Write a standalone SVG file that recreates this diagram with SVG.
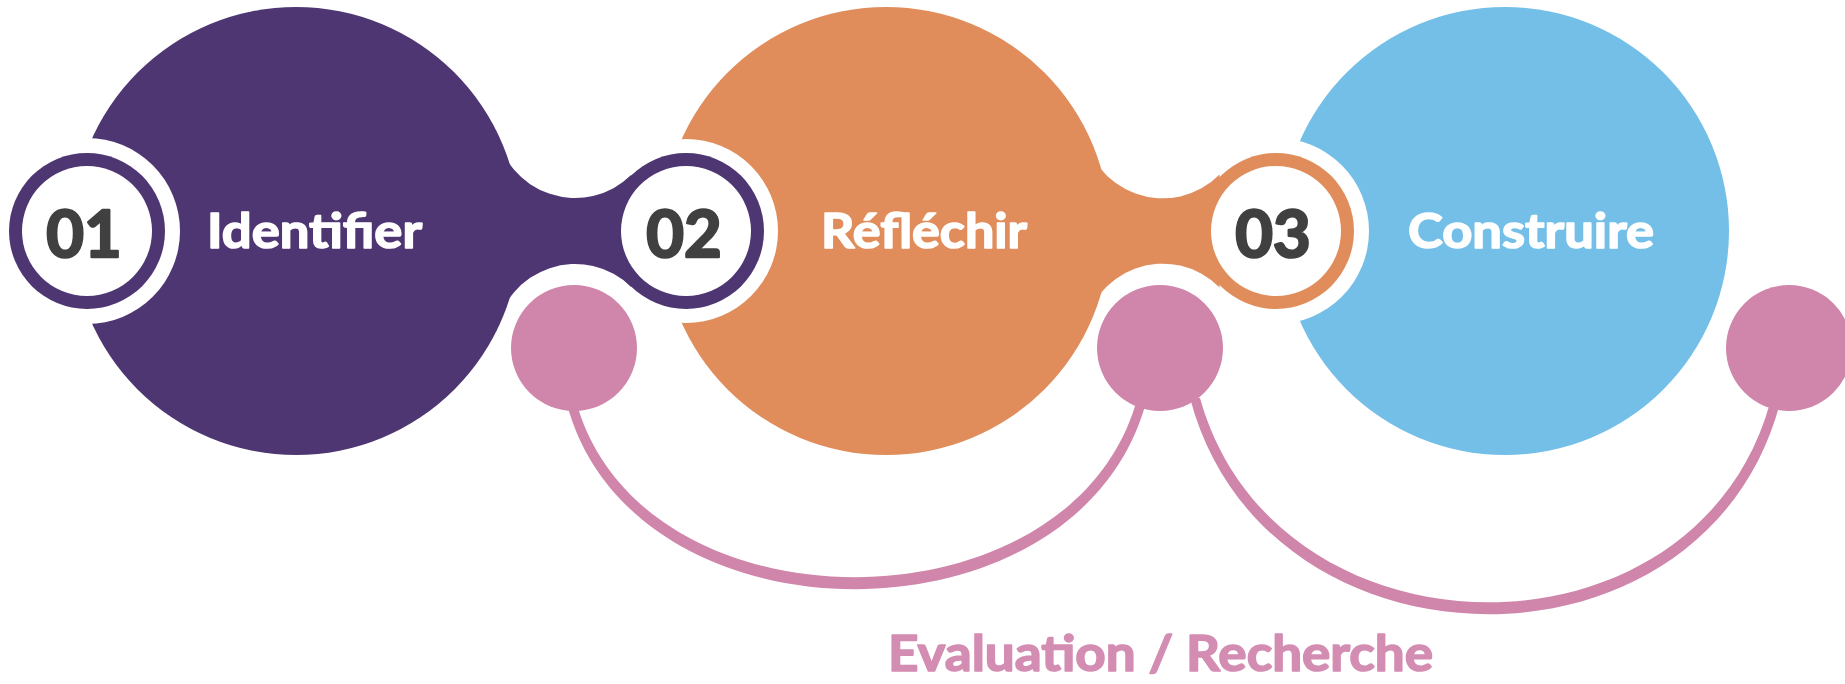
<svg xmlns="http://www.w3.org/2000/svg" width="1845" height="684" viewBox="0 0 1845 684">
<style>
.purple{fill:#4E3672}
.orange{fill:#E08D5B}
.blue{fill:#74BFE8}
.pink{fill:#D086AA}
.white{fill:#FFFFFF}
.num{font-family:Lato,"Noto Sans","Liberation Sans",sans-serif;font-weight:700;font-size:65px;fill:#404040;stroke:#404040;stroke-width:2.5;stroke-linejoin:round;text-anchor:middle}
.lbl{font-family:Lato,"Noto Sans","Liberation Sans",sans-serif;font-weight:700;font-size:48px;fill:#FFFFFF;stroke:#FFFFFF;stroke-width:1.6;stroke-linejoin:round}
.foot{font-family:Lato,"Noto Sans","Liberation Sans",sans-serif;font-weight:700;font-size:50px;fill:#D48DB2;stroke:#D48DB2;stroke-width:1.6;stroke-linejoin:round}
</style>
<rect width="1845" height="684" fill="#FFFFFF"/>
<g id="big-circles">
<circle class="purple" cx="296" cy="231" r="224"/>
<circle class="orange" cx="886" cy="231" r="224"/>
<circle class="blue" cx="1505" cy="231" r="224"/>
<circle class="white" cx="87" cy="231" r="93"/>
<circle class="white" cx="686" cy="231" r="92"/>
<circle class="white" cx="1276" cy="231" r="93"/>
</g>
<g id="connectors">
<path class="purple" d="M496,130 A80 80 0 0 0 631.1,175.1 L631.1,286.9 A80 80 0 0 0 496,332 Z"/>
<path class="orange" d="M1083,125 A80 80 0 0 0 1219.6,174.6 L1219.6,287.4 A80 80 0 0 0 1083,337 Z"/>
<path class="pink" d="M568,408 C638,651 1075,649 1145,406 L1135,406 C1065,633 648,635 578,408 Z"/>
<path class="pink" d="M1190,398 C1265,683 1705,688 1780,403 L1770,403 C1695,672 1275,667 1200,398 Z"/>
</g>
<g id="node-01">
<circle class="purple" cx="87" cy="231" r="78"/>
<circle class="white" cx="87" cy="231" r="65"/>
<text class="num" x="84" y="257">01</text>
<text class="lbl" x="207" y="248" textLength="215" lengthAdjust="spacingAndGlyphs">Identifier</text>
</g>
<g id="node-02">
<circle class="purple" cx="686" cy="231" r="78"/>
<circle class="white" cx="686" cy="231" r="65"/>
<text class="num" x="684" y="257">02</text>
<text class="lbl" x="821" y="248" textLength="206" lengthAdjust="spacingAndGlyphs">Réfléchir</text>
</g>
<g id="node-03">
<circle class="orange" cx="1276" cy="231" r="78"/>
<circle class="white" cx="1276" cy="231" r="65"/>
<text class="num" x="1273" y="257">03</text>
<text class="lbl" x="1408" y="248" textLength="246" lengthAdjust="spacingAndGlyphs">Construire</text>
</g>
<g id="pink-dots">
<circle class="pink" cx="574" cy="348" r="63"/>
<circle class="pink" cx="1160" cy="348" r="63"/>
<circle class="pink" cx="1789" cy="348" r="63"/>
</g>
<g id="caption">
<text class="foot" x="888" y="671" textLength="545" lengthAdjust="spacingAndGlyphs">Evaluation / Recherche</text>
</g>
</svg>
